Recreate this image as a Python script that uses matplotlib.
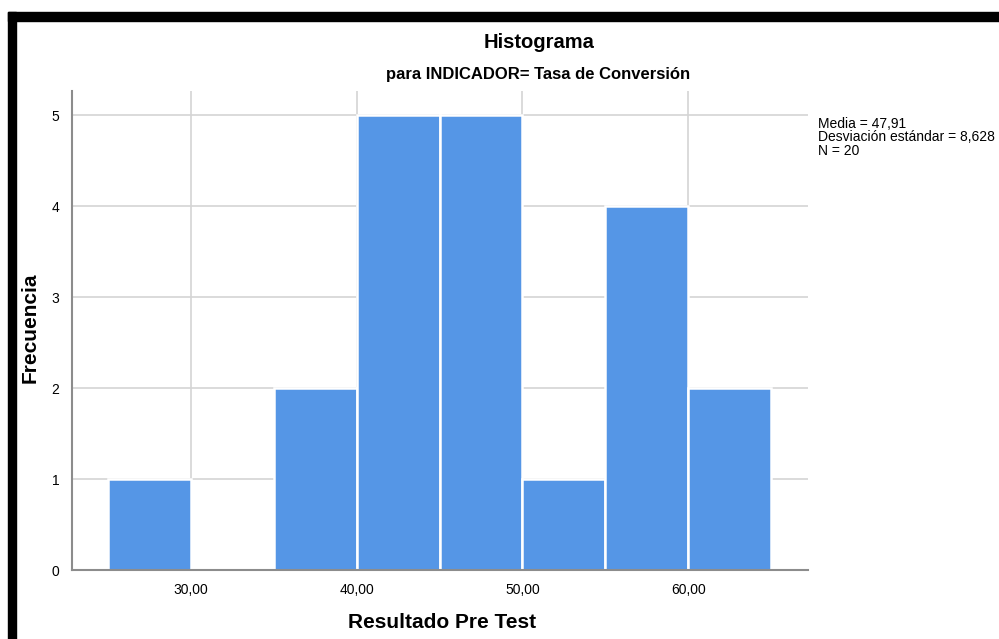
import matplotlib
matplotlib.use("Agg")
import matplotlib.pyplot as plt
from matplotlib.patches import Rectangle

plt.rcParams['font.family'] = ['Liberation Sans', 'DejaVu Sans']

# datos del histograma
bin_edges = [25, 30, 35, 40, 45, 50, 55, 60, 65]
frecuencias = [1, 0, 2, 5, 5, 1, 4, 2]
x_ticks = [30, 40, 50, 60]
x_tick_labels = ["30,00", "40,00", "50,00", "60,00"]
y_ticks = [0, 1, 2, 3, 4, 5]
stats_lines = ["Media = 47,91", "Desviación estándar = 8,628", "N = 20"]

W, H = 999, 639
fig = plt.figure(figsize=(W / 100, H / 100), dpi=100)

# ejes en pixeles
left, right, top, bottom = 72, 808, 91, 570
ax = fig.add_axes([left / W, 1 - bottom / H, (right - left) / W, (bottom - top) / H])

ax.set_axisbelow(True)
ax.grid(True, color='#d4d4d4', linewidth=1.2)
ax.bar(bin_edges[:-1], frecuencias, width=5, align='edge', color='#5596e6',
       edgecolor='white', linewidth=1.8, zorder=2)

ax.set_xlim(22.83, 67.23)
ax.set_ylim(0, 5.264)
ax.set_xticks(x_ticks)
ax.set_xticklabels(x_tick_labels)
ax.set_yticks(y_ticks)
ax.tick_params(length=0, labelsize=10)
ax.tick_params(axis='y', pad=9)
ax.tick_params(axis='x', pad=9)

for s in ['top', 'right']:
    ax.spines[s].set_visible(False)
for s in ['left', 'bottom']:
    ax.spines[s].set_color('#8c8c8c')
    ax.spines[s].set_linewidth(1.5)

# textos
fig.text(539 / W, 1 - 42 / H, "Histograma", ha='center', va='center', fontsize=14.5, fontweight='bold')
fig.text(538 / W, 1 - 75 / H, "para INDICADOR= Tasa de Conversión", ha='center', va='center',
         fontsize=12, fontweight='bold')
fig.text(442 / W, 1 - 622 / H, "Resultado Pre Test", ha='center', va='center', fontsize=15, fontweight='bold')
fig.text(30 / W, 1 - 328 / H, "Frecuencia", ha='center', va='center', rotation=90, fontsize=15,
         fontweight='bold')
fig.text(818 / W, 1 - 117 / H, "\n".join(stats_lines), ha='left', va='top', fontsize=10, linespacing=0.95)

# marco negro
fig.patches.append(Rectangle((8 / W, 1 - 20.5 / H), 1, 8.5 / H, transform=fig.transFigure,
                             color='black', zorder=10))
fig.patches.append(Rectangle((8 / W, 0), 8 / W, 1 - 12 / H, transform=fig.transFigure,
                             color='black', zorder=10))

fig.savefig("out.png", dpi=100)
